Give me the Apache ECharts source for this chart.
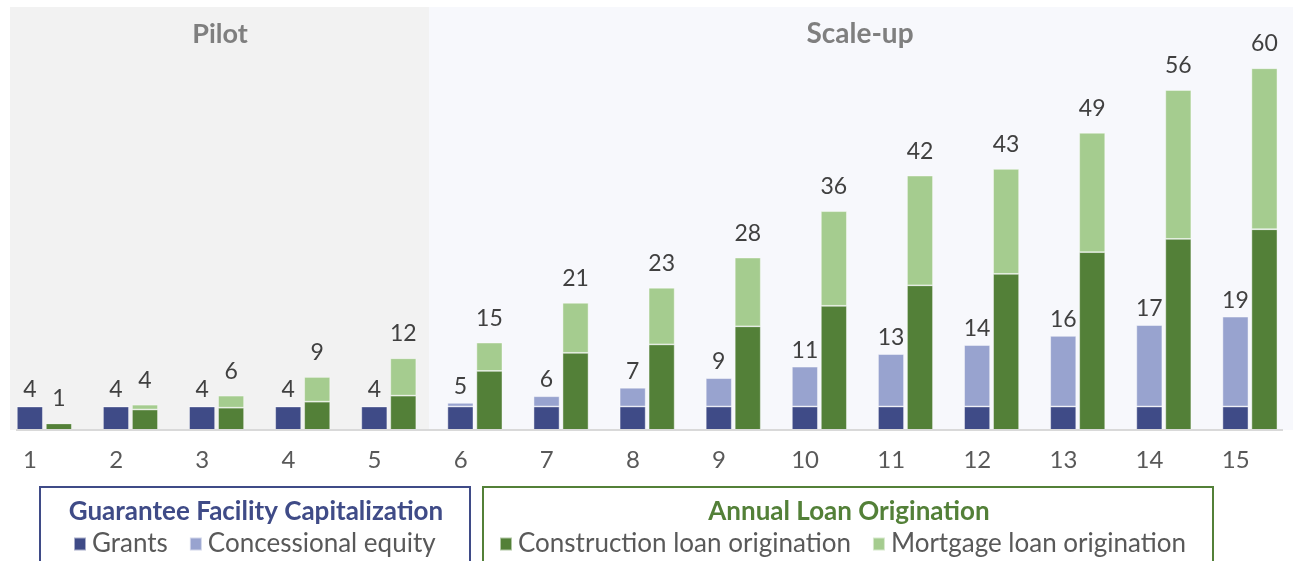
<!DOCTYPE html>
<html>
<head>
<meta charset="utf-8">
<script src="https://cdn.jsdelivr.net/npm/echarts@6/dist/echarts.min.js"></script>
<style>
  html, body { margin: 0; padding: 0; background: #ffffff; }
  #chart { width: 1293px; height: 561px; }
</style>
</head>
<body>
<div id="chart"></div>
<script>
const categories = ['1','2','3','4','5','6','7','8','9','10','11','12','13','14','15'];
const grants = [3.9,3.9,3.9,3.9,3.9,3.9,3.9,3.9,3.9,3.9,3.9,3.9,3.9,3.9,3.9];
const equity = [0,0,0,0,0,0.6,1.7,3.1,4.7,6.6,8.7,10.2,11.7,13.5,14.9];
const construction = [1.1,3.4,3.7,4.7,5.7,9.8,12.8,14.2,17.2,20.6,24.0,25.9,29.5,31.7,33.3];
const mortgage = [0,0.8,2.0,4.1,6.2,4.7,8.3,9.4,11.4,15.7,18.2,17.4,19.8,24.7,26.7];
const capTotals = [4,4,4,4,4,5,6,7,9,11,13,14,16,17,19];
const loanTotals = [1,4,6,9,12,15,21,23,28,36,42,43,49,56,60];

const C_NAVY = '#3f4b87';
const C_LBLUE = '#98a3cf';
const C_DGREEN = '#538038';
const C_LGREEN = '#a5cc8f';
const FONT = 'Lato, "Open Sans", sans-serif';

const chart = echarts.init(document.getElementById('chart'));

const barBase = {
  type: 'bar',
  barWidth: 26,
  barGap: '11.5%',
  itemStyle: { borderColor: 'rgba(255,255,255,0.55)', borderWidth: 0.8 }
};

const option = {
  animation: false,
  backgroundColor: '#ffffff',
  grid: { left: 1.3, top: 8, width: 1296, height: 422, containLabel: false },
  xAxis: {
    type: 'category',
    data: categories,
    axisLine: { show: false },
    axisTick: { show: false },
    axisLabel: {
      color: '#595959', fontSize: 24, fontFamily: FONT,
      margin: 18, padding: [0, 28.6, 0, 0]
    }
  },
  yAxis: {
    type: 'value', min: 0, max: 70, show: false,
    splitLine: { show: false }
  },
  legend: [
    {
      data: ['Grants', 'Concessional equity'],
      left: 73, top: 531, icon: 'rect', itemWidth: 12, itemHeight: 13,
      itemGap: 21, selectedMode: false, padding: 0,
      textStyle: { color: '#595959', fontSize: 26, fontFamily: FONT, padding: [0, 0, 0, 1] }
    },
    {
      data: ['Construction loan origination', 'Mortgage loan origination'],
      left: 499, top: 531, icon: 'rect', itemWidth: 12, itemHeight: 13,
      itemGap: 21, selectedMode: false, padding: 0,
      textStyle: { color: '#595959', fontSize: 26, fontFamily: FONT, padding: [0, 0, 0, 1] }
    }
  ],
  graphic: [
    { type: 'rect', z: -10, silent: true, shape: { x: 10, y: 7, width: 419, height: 423 }, style: { fill: '#f2f2f2' } },
    { type: 'rect', z: -10, silent: true, shape: { x: 429, y: 7, width: 864, height: 423 }, style: { fill: '#f7f8fc' } },
    { type: 'line', z: 10, silent: true, shape: { x1: 16, y1: 430, x2: 1283, y2: 430 }, style: { stroke: '#d9d9d9', lineWidth: 2 } },
    { type: 'text', z: 10, silent: true, x: 220, y: 34, style: { text: 'Pilot', fill: '#7f7f7f', font: 'bold 27px ' + FONT, textAlign: 'center', textVerticalAlign: 'middle' } },
    { type: 'text', z: 10, silent: true, x: 860, y: 34, style: { text: 'Scale-up', fill: '#7f7f7f', font: 'bold 28px ' + FONT, textAlign: 'center', textVerticalAlign: 'middle' } },
    { type: 'rect', z: 10, silent: true, shape: { x: 40, y: 487, width: 430, height: 120 }, style: { fill: 'none', stroke: C_NAVY, lineWidth: 2 } },
    { type: 'rect', z: 10, silent: true, shape: { x: 483, y: 487, width: 730, height: 120 }, style: { fill: 'none', stroke: C_DGREEN, lineWidth: 2 } },
    { type: 'text', z: 10, silent: true, x: 256, y: 512, style: { text: 'Guarantee Facility Capitalization', fill: C_NAVY, font: 'bold 26px ' + FONT, textAlign: 'center', textVerticalAlign: 'middle' } },
    { type: 'text', z: 10, silent: true, x: 849, y: 512, style: { text: 'Annual Loan Origination', fill: C_DGREEN, font: 'bold 26px ' + FONT, textAlign: 'center', textVerticalAlign: 'middle' } }
  ],
  series: [
    Object.assign({}, barBase, {
      name: 'Grants', stack: 'cap', data: grants,
      itemStyle: Object.assign({}, barBase.itemStyle, { color: C_NAVY })
    }),
    Object.assign({}, barBase, {
      name: 'Concessional equity', stack: 'cap', data: equity,
      itemStyle: Object.assign({}, barBase.itemStyle, { color: C_LBLUE }),
      label: {
        show: true, position: 'top', distance: 5,
        color: '#404040', fontSize: 23, fontFamily: FONT,
        formatter: p => String(capTotals[p.dataIndex])
      }
    }),
    Object.assign({}, barBase, {
      name: 'Construction loan origination', stack: 'loan', data: construction,
      itemStyle: Object.assign({}, barBase.itemStyle, { color: C_DGREEN })
    }),
    Object.assign({}, barBase, {
      name: 'Mortgage loan origination', stack: 'loan', data: mortgage,
      itemStyle: Object.assign({}, barBase.itemStyle, { color: C_LGREEN }),
      label: {
        show: true, position: 'top', distance: 13,
        color: '#404040', fontSize: 23, fontFamily: FONT,
        formatter: p => String(loanTotals[p.dataIndex])
      }
    })
  ]
};

chart.setOption(option);
</script>
</body>
</html>
